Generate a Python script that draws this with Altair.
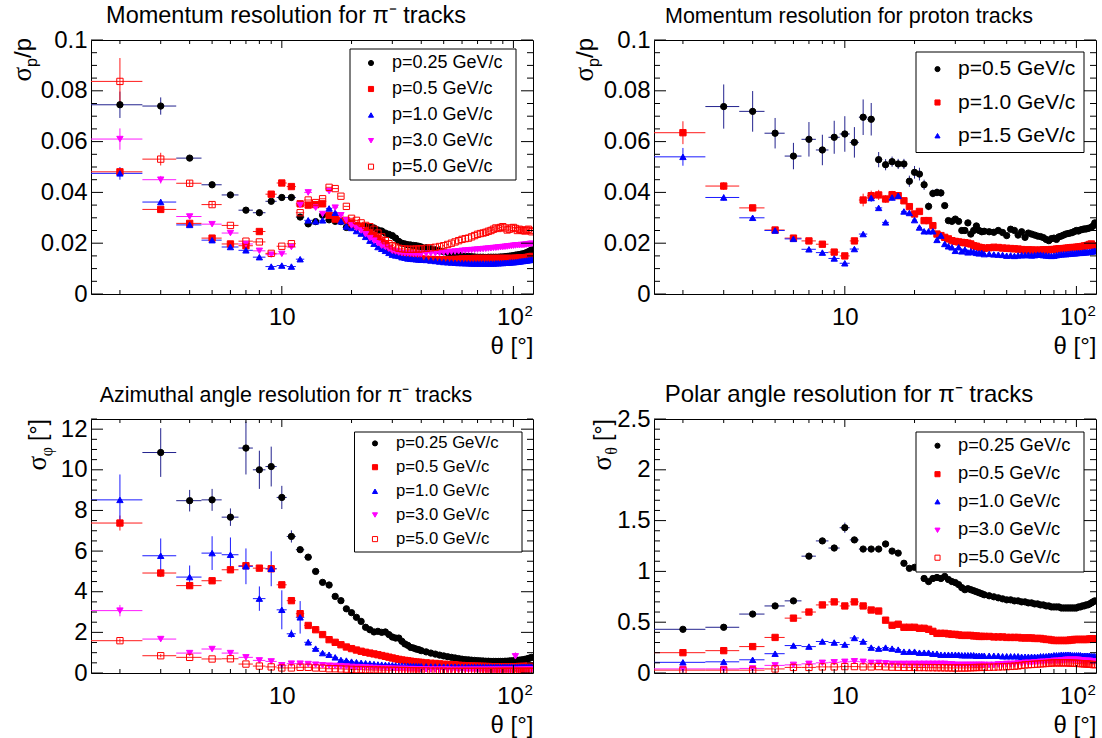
import altair as alt
import pandas as pd

# ---------------- data (theta bins in degrees) ----------------
T = list(range(2, 41)) + list(range(42, 121, 2))

LAB_PI = ["p=0.25 GeV/c", "p=0.5 GeV/c", "p=1.0 GeV/c", "p=3.0 GeV/c", "p=5.0 GeV/c"]
LAB_PR = ["p=0.5 GeV/c", "p=1.0 GeV/c", "p=1.5 GeV/c"]

# Top-left: momentum resolution, pi-
TL_K = [.0745,.074,.0535,.043,.039,.033,.032,.0365,.038,.038,
        .0303,.0276,.0285,.031,.0292,.0286,.0285,.0262,.0265,
        .0268,.0265,.0266,.0265,.026,.0252,.0248,.024,.0235,.023,
        .022,.0207,.02,.0197,.0194,.0193,.0191,.019,.0188,.0185,
        .0182,.0178,.0174,.017,.0166,.0163,.016,.0157,.0153,.015,
        .0149,.0148,.0147,.0146,.0145,.0145,.0145,.0144,.0145,.0145,
        .0145,.0145,.0145,.0146,.0146,.0147,.0148,.0149,.015,.0151,
        .0153,.0154,.0155,.0157,.0158,.016,.0163,.0166,.017,.0174]
TL_R = [.0481,.0333,.0278,.022,.0197,.019,.0246,.0393,.0437,.0423,
        .0355,.035,.0352,.0355,.031,.0295,.029,.029,.028,
        .027,.0265,.025,.024,.023,.022,.0205,.0195,.018,.017,
        .0165,.016,.0155,.015,.0147,.0145,.0143,.014,.014,.0138,
        .0137,.0136,.0135,.0135,.0135,.0135,.0136,.0136,.0137,.0138,
        .0138,.0139,.0139,.014,.014,.014,.014,.014,.014,.014,
        .014,.014,.014,.014,.014,.014,.014,.014,.014,.014,
        .0141,.0141,.0142,.0142,.0142,.0143,.0144,.0145,.0147,.0148]
TL_B = [.0475,.0362,.0272,.0212,.0185,.0172,.0145,.0108,.0112,.0108,
        .0137,.029,.0286,.029,.0337,.032,.0286,.0266,.026,
        .0248,.0238,.0225,.021,.0198,.0185,.0178,.017,.0162,.0155,
        .0152,.015,.0145,.0143,.014,.0139,.0138,.0137,.0136,.0135,
        .0134,.0132,.013,.0128,.0126,.0125,.0124,.0123,.0122,.0122,
        .0121,.0121,.012,.012,.012,.012,.012,.012,.012,.012,
        .012,.0121,.0121,.0122,.0122,.0123,.0123,.0124,.0125,.0125,
        .0126,.0127,.0128,.0129,.013,.0131,.0132,.0133,.0134,.0136]
TL_M = [.061,.045,.0305,.0275,.024,.0197,.017,.0155,.0158,.0185,
        .035,.040,.034,.0315,.0405,.034,.031,.029,.027,
        .026,.025,.0235,.022,.021,.02,.019,.0185,.0178,.017,
        .0167,.0163,.0161,.016,.016,.0159,.0158,.0158,.0158,.0158,
        .0159,.016,.016,.0161,.0163,.0164,.0166,.0167,.0168,.017,
        .0171,.0172,.0173,.0174,.0175,.0176,.0177,.0178,.0179,.018,
        .0181,.0182,.0183,.0184,.0185,.0186,.0187,.0188,.0189,.019,
        .0191,.0192,.0192,.0193,.0193,.0194,.0195,.0196,.0197,.0198]
TL_O = [.0837,.0531,.0436,.0352,.027,.0208,.0205,.016,.0188,.0198,
        .032,.037,.036,.0375,.042,.0415,.0385,.0345,.0298,
        .029,.028,.027,.0265,.0255,.024,.0225,.021,.0198,.019,
        .0185,.018,.0178,.0177,.0176,.0176,.0176,.0177,.0177,.0178,
        .018,.0182,.0184,.0187,.019,.0195,.02,.0205,.021,.0215,
        .0218,.022,.0225,.023,.0235,.0238,.024,.0243,.0247,.025,
        .0255,.026,.0258,.0262,.0265,.026,.0252,.0255,.026,.0262,
        .0258,.025,.0255,.0252,.025,.0248,.0252,.0255,.025,.0245]
TL_ERR = [
    {2:.0052,3:.0034,4:.001,5:.0008,6:.0008,7:.0008,8:.0008,9:.0009,10:.0009,11:.0009},
    {2:.0015,3:.001,4:.0008,8:.0008,9:.001,10:.001,11:.001},
    {2:.0025,3:.0012,4:.0008},
    {2:.0042,3:.0015,4:.001,12:.001,13:.0012},
    {2:.0092,3:.0025,4:.0012,5:.001},
]

# Top-right: momentum resolution, protons
TR_K = [None,.0738,.0719,.0633,.0543,.0609,.0567,.0617,.063,.0597,
        .0696,.0688,.0529,.0509,.0521,.0512,.0512,.0444,.0479,
        .0472,.043,.0345,.0396,.040,.0398,.0348,.0289,.0286,.0295,
        .0286,.025,.025,.028,.0236,.025,.0268,.025,.0245,.0247,
        .0245,.0243,.025,.0242,.023,.0255,.025,.0232,.0245,.0223,
        .024,.0236,.0232,.0228,.0226,.0222,.0215,.021,.0218,.022,
        .0215,.0225,.0228,.0232,.0236,.0238,.024,.0242,.0246,.025,
        .0248,.0252,.0254,.0256,.0256,.0258,.026,.0262,.0268,.028]
TR_R = [.0635,.0425,.0339,.0252,.022,.0209,.0196,.0165,.015,.0209,
        .037,.0387,.039,.0374,.0391,.0387,.0367,.0344,.0315,
        .0325,.0289,.0289,.0269,.0236,.023,.0223,.0217,.021,.0207,
        .0205,.0203,.0202,.02,.0197,.019,.0188,.0184,.0182,.018,
        .0182,.0184,.0183,.0181,.018,.0179,.0178,.0177,.0175,.0173,
        .0174,.0173,.0173,.0172,.0173,.0174,.0173,.0174,.0175,.0175,
        .0177,.0178,.0178,.0179,.018,.0181,.0182,.0183,.0183,.0184,
        .0185,.0186,.0187,.0189,.019,.0192,.0195,.0197,.019,.0184]
TR_B = [.054,.038,.030,.025,.0217,.0176,.0163,.014,.0121,.0177,
        .0236,.0378,.0339,.0282,.038,.0387,.0325,.0319,.0291,
        .0262,.0247,.0247,.0247,.0213,.023,.0197,.0188,.0184,.017,
        .0184,.0168,.0175,.0164,.0168,.0165,.0162,.016,.0162,.0157,
        .0158,.0156,.0155,.0154,.0151,.0152,.015,.0152,.0153,.0153,
        .0154,.0152,.0153,.0155,.0155,.0153,.0152,.0151,.015,.0151,
        .0153,.0155,.0156,.0157,.0157,.0158,.0159,.016,.016,.0161,
        .0162,.0162,.0163,.0164,.0164,.0165,.0166,.0167,.0168,.017]
TR_ERR = [
    {3:.0087,4:.008,5:.006,6:.0052,7:.0068,8:.006,9:.0065,10:.007,11:.006,12:.007,
     13:.0064,14:.003,15:.0022,16:.002,17:.002,18:.002,19:.0022,20:.0025,21:.0025,
     22:.002,23:.0015,24:.0015,25:.0015,26:.0015},
    {2:.0045,3:.0015,4:.001,12:.0025,13:.002,14:.002,15:.0015,16:.0015,17:.0012},
    {2:.0035,3:.0012,13:.0015,16:.0012,17:.0012},
]

# Bottom-left: azimuthal angle resolution, pi-
BL_K = [None,10.85,8.48,8.52,7.67,11.07,10.0,10.16,8.64,6.72,
        6.07,5.7,5.0,4.46,4.33,3.77,3.56,3.16,2.97,
        2.74,2.54,2.25,2.13,2.02,2.05,2.0,2.02,1.89,1.77,
        1.72,1.72,1.56,1.43,1.36,1.26,1.23,1.18,1.15,1.1,
        1.04,0.98,0.93,0.88,0.84,0.8,0.77,0.74,0.71,0.68,
        0.66,0.65,0.63,0.62,0.61,0.6,0.59,0.58,0.58,0.57,
        0.57,0.57,0.57,0.57,0.57,0.58,0.58,0.59,0.6,0.6,
        0.61,0.62,0.63,0.64,0.65,0.67,0.69,0.71,0.74,0.77]
BL_R = [7.38,4.92,4.3,4.54,5.08,5.28,5.16,5.13,4.34,3.56,
        2.92,2.34,2.13,1.89,1.64,1.51,1.39,1.28,1.2,
        1.13,1.07,1.02,0.98,0.94,0.9,0.86,0.82,0.78,0.74,
        0.7,0.67,0.64,0.62,0.6,0.58,0.56,0.54,0.53,0.52,
        0.5,0.48,0.47,0.45,0.43,0.42,0.41,0.4,0.38,0.37,
        0.36,0.36,0.35,0.34,0.34,0.33,0.33,0.32,0.32,0.31,
        0.31,0.31,0.31,0.31,0.3,0.3,0.3,0.3,0.31,0.31,
        0.31,0.31,0.32,0.32,0.32,0.32,0.33,0.33,0.33,0.34]
BL_B = [8.52,5.77,4.72,5.9,5.82,5.25,3.66,5.13,3.11,1.93,
        2.74,1.51,1.2,0.98,0.9,0.77,0.64,0.61,0.56,
        0.53,0.5,0.48,0.46,0.44,0.42,0.41,0.4,0.39,0.38,
        0.37,0.36,0.36,0.35,0.35,0.34,0.34,0.34,0.33,0.33,
        0.33,0.32,0.32,0.32,0.31,0.31,0.31,0.31,0.3,0.3,
        0.3,0.3,0.3,0.3,0.3,0.3,0.3,0.3,0.3,0.3,
        0.3,0.3,0.3,0.3,0.3,0.3,0.3,0.3,0.3,0.3,
        0.3,0.3,0.3,0.3,0.3,0.3,0.3,0.3,0.3,0.3]
BL_M = [3.07,1.67,0.98,1.18,0.98,0.77,0.62,0.57,0.38,0.46,
        0.46,0.44,0.41,0.38,0.36,0.35,0.33,0.32,0.3,
        0.29,0.28,0.27,0.26,0.25,0.24,0.23,0.23,0.22,0.21,
        0.21,0.2,0.2,0.2,0.19,0.19,0.19,0.18,0.18,0.18,
        0.18,0.17,0.17,0.17,0.17,0.17,0.16,0.16,0.16,0.16,
        0.16,0.16,0.16,0.16,0.16,0.16,0.16,0.16,0.16,0.16,
        0.16,0.16,0.16,0.16,0.16,0.16,0.16,0.16,0.16,0.16,
        0.82,0.16,0.16,0.16,0.16,0.16,0.17,0.17,0.17,0.17]
BL_O = [1.59,0.85,0.77,0.69,0.7,0.44,0.34,0.3,0.25,0.25,
        0.28,0.28,0.25,0.24,0.21,0.21,0.2,0.19,0.18,
        0.17,0.17,0.16,0.16,0.15,0.15,0.14,0.14,0.13,0.13,
        0.13,0.12,0.12,0.12,0.11,0.11,0.11,0.1,0.1,0.1,
        0.1,0.09,0.09,0.09,0.09,0.08,0.08,0.08,0.08,0.08,
        0.08,0.08,0.08,0.08,0.08,0.08,0.08,0.08,0.08,0.08,
        0.08,0.08,0.08,0.08,0.08,0.08,0.08,0.08,0.08,0.08,
        0.08,0.08,0.08,0.08,0.08,0.08,0.08,0.08,0.08,0.08]
BL_ERR = [
    {3:1.2,4:.53,5:.54,6:.43,7:1.3,8:.94,9:.98,10:.57,11:.3,12:.15},
    {2:.37,3:.2,4:.15,5:.12,6:.15,7:.15,8:.12,9:.12},
    {2:1.25,3:.85,4:.57,5:.83,6:.85,7:.88,8:.6,9:.86,10:.96,11:.2,12:.8,13:.15},
    {2:.28,3:.12,4:.1,5:.1,6:.1,102:.2},
    {2:.1,3:.08},
]

# Bottom-right: polar angle resolution, pi-
BR_K = [0.43,0.45,0.58,0.66,0.71,1.15,1.3,1.23,1.43,1.31,
        1.22,1.22,1.22,1.27,1.2,1.18,1.08,1.03,1.04,
        1.04,0.93,0.9,0.93,0.94,0.93,0.95,0.92,0.9,0.89,
        0.87,0.84,0.82,0.83,0.82,0.81,0.8,0.79,0.78,0.77,
        0.76,0.75,0.74,0.73,0.72,0.72,0.71,0.71,0.7,0.7,
        0.69,0.69,0.68,0.68,0.67,0.67,0.66,0.66,0.65,0.65,
        0.65,0.65,0.64,0.64,0.64,0.64,0.64,0.64,0.64,0.64,
        0.65,0.65,0.66,0.66,0.67,0.67,0.68,0.69,0.7,0.71]
BR_R = [0.2,0.22,0.26,0.35,0.54,0.6,0.67,0.7,0.66,0.7,
        0.66,0.62,0.61,0.52,0.47,0.48,0.45,0.45,0.45,
        0.44,0.44,0.43,0.41,0.39,0.39,0.39,0.385,0.38,0.38,
        0.375,0.37,0.37,0.37,0.37,0.365,0.365,0.36,0.36,0.36,
        0.36,0.355,0.355,0.355,0.35,0.35,0.35,0.35,0.345,0.345,
        0.345,0.345,0.34,0.34,0.34,0.335,0.33,0.33,0.325,0.32,
        0.32,0.32,0.32,0.32,0.32,0.32,0.325,0.325,0.33,0.33,
        0.33,0.33,0.33,0.33,0.33,0.33,0.335,0.335,0.335,0.335]
BR_B = [0.105,0.11,0.13,0.19,0.27,0.26,0.31,0.3,0.28,0.345,
        0.31,0.25,0.24,0.25,0.24,0.23,0.21,0.21,0.21,
        0.2,0.2,0.2,0.19,0.19,0.18,0.18,0.18,0.18,0.18,
        0.18,0.175,0.175,0.175,0.175,0.175,0.17,0.17,0.17,0.17,
        0.17,0.17,0.17,0.165,0.165,0.165,0.165,0.165,0.16,0.16,
        0.16,0.16,0.16,0.16,0.165,0.165,0.165,0.17,0.17,0.175,
        0.175,0.175,0.18,0.18,0.18,0.18,0.18,0.175,0.175,0.175,
        0.175,0.175,0.17,0.17,0.17,0.17,0.17,0.165,0.165,0.165]
BR_M = [0.04,0.04,0.045,0.075,0.08,0.09,0.1,0.105,0.11,0.115,
        0.11,0.1,0.1,0.095,0.09,0.09,0.09,0.09,0.09,
        0.09,0.09,0.09,0.09,0.09,0.09,0.09,0.085,0.085,0.08,
        0.08,0.08,0.08,0.08,0.08,0.08,0.08,0.08,0.08,0.08,
        0.08,0.08,0.085,0.085,0.09,0.09,0.09,0.095,0.095,0.1,
        0.1,0.1,0.105,0.105,0.11,0.11,0.11,0.115,0.115,0.12,
        0.12,0.12,0.125,0.125,0.13,0.13,0.13,0.13,0.13,0.13,
        0.13,0.125,0.125,0.12,0.12,0.12,0.12,0.115,0.115,0.115]
BR_O = [0.028,0.028,0.028,0.04,0.055,0.055,0.06,0.06,0.063,0.063,
        0.06,0.06,0.063,0.06,0.058,0.057,0.055,0.055,0.055,
        0.054,0.054,0.053,0.053,0.052,0.052,0.051,0.051,0.05,0.05,
        0.05,0.05,0.05,0.051,0.052,0.053,0.054,0.055,0.055,0.056,
        0.057,0.058,0.06,0.061,0.063,0.065,0.067,0.07,0.075,0.08,
        0.082,0.084,0.086,0.088,0.09,0.092,0.094,0.096,0.098,0.1,
        0.1,0.1,0.1,0.1,0.1,0.1,0.098,0.097,0.096,0.095,
        0.094,0.093,0.092,0.09,0.09,0.088,0.086,0.085,0.083,0.082]
BR_ERR = [{7:.02,8:.03,9:.02,10:.05,11:.03}, {}, {}, {}, {}]

# ---------------- styling ----------------
FONT = "Liberation Sans"
SERIF = "Liberation Serif"
W, H = 442, 254
FILLS = ["black", "red", "blue", "magenta", "transparent"]
STROKES = ["black", "red", "blue", "magenta", "red"]
SHAPES = ["circle", "square", "triangle-up", "triangle-down", "square"]
ERRCOL = ["#23238e", "#ff1a1a", "#1a1aff", "#ff1aff", "#ff1a1a"]
XMAJOR = [10, 100]
XMINOR = [2, 3, 4, 5, 6, 7, 8, 9, 20, 30, 40, 50, 60, 70, 80, 90]


def make_df(labels, series, errs):
    rows = []
    for si, (lab, vals, err) in enumerate(zip(labels, series, errs)):
        for t, v in zip(T, vals):
            if v is None:
                continue
            e = err.get(t, 0.0)
            rows.append(dict(theta=t, val=v, series=lab, idx=si,
                             xlo=t - 0.5, xhi=t + 0.5, ylo=v - e, yhi=v + e,
                             err=e, ecol=ERRCOL[si]))
    return pd.DataFrame(rows)


def one(text):
    return pd.DataFrame({"t": [text]})


def panel(labels, series, errs, ydom, ymajor, ystep, title, tsize, ytitle, leg, box,
          anchor=False):
    df = make_df(labels, series, errs)
    n = len(labels)
    xs = alt.Scale(type="log", domain=[1.5, 121.5], nice=False)
    ys = alt.Scale(domain=ydom, nice=False, zero=False)
    xax = alt.Axis(values=XMAJOR, labelExpr="datum.value >= 100 ? '' : '10'",
                   labelFont=FONT, labelFontSize=24, labelColor="black",
                   labelPadding=30.5, labelBaseline="alphabetic",
                   ticks=False, tickSize=0, domain=False, grid=False,
                   title="θ [°]", titleFont=FONT, titleFontSize=24,
                   titleFontWeight="normal", titleColor="black",
                   titleAnchor="end", titleAlign="right", titleBaseline="alphabetic",
                   titleX=W, titleY=59)
    yax = alt.Axis(values=ymajor, format="~g", labelFont=FONT, labelFontSize=24,
                   labelColor="black", labelPadding=4, ticks=False, tickSize=0,
                   domain=False, grid=False, title=None)

    def X(f):
        return alt.X(f"{f}:Q", scale=xs, axis=xax)

    def Y(f):
        return alt.Y(f"{f}:Q", scale=ys, axis=yax)

    layers = []
    layers.append(alt.Chart(df).mark_rule(strokeWidth=1, clip=True).encode(
        x=X("xlo"), x2="xhi", y=Y("val"), color=alt.Color("ecol:N", scale=None)))
    layers.append(alt.Chart(df[df.err > 0]).mark_rule(strokeWidth=1, clip=True).encode(
        x=X("theta"), y=Y("ylo"), y2="yhi", color=alt.Color("ecol:N", scale=None)))

    layers.append(alt.Chart(df).mark_point(size=40, strokeWidth=1, opacity=1, clip=True).encode(
        x=X("theta"), y=Y("val"),
        fill=alt.Fill("series:N", scale=alt.Scale(domain=labels, range=FILLS[:n]), legend=None),
        stroke=alt.Stroke("series:N", scale=alt.Scale(domain=labels, range=STROKES[:n]), legend=None),
        shape=alt.Shape("series:N", scale=alt.Scale(domain=labels, range=SHAPES[:n]), legend=None),
        order=alt.Order("idx:Q"),
    ))

    # inward ticks on all four sides
    for vals, L in [(XMAJOR, 8), (XMINOR, 4)]:
        d = pd.DataFrame({"theta": vals})
        layers.append(alt.Chart(d).mark_rule(color="black", strokeWidth=1).encode(
            x=X("theta"), y=alt.value(H), y2=alt.value(H - L)))
        layers.append(alt.Chart(d).mark_rule(color="black", strokeWidth=1).encode(
            x=X("theta"), y=alt.value(0), y2=alt.value(L)))
    nmin = int(round((ydom[1] - ydom[0]) / ystep))
    yminor = [round(ydom[0] + i * ystep, 6) for i in range(nmin + 1)]
    yminor = [v for v in yminor if all(abs(v - m) > 1e-9 for m in ymajor)]
    for vals, L in [(ymajor, 12), (yminor, 6)]:
        d = pd.DataFrame({"val": vals})
        layers.append(alt.Chart(d).mark_rule(color="black", strokeWidth=1).encode(
            y=Y("val"), x=alt.value(0), x2=alt.value(L)))
        layers.append(alt.Chart(d).mark_rule(color="black", strokeWidth=1).encode(
            y=Y("val"), x=alt.value(W), x2=alt.value(W - L)))

    # "10^2" label at the 100 tick
    d100 = pd.DataFrame({"theta": [100], "t": ["10"], "s": ["2"]})
    layers.append(alt.Chart(d100).mark_text(
        font=FONT, fontSize=24, align="center", baseline="alphabetic", dx=-3,
        color="black").encode(x=X("theta"), y=alt.value(H + 30.5), text="t:N"))
    layers.append(alt.Chart(d100).mark_text(
        font=FONT, fontSize=15, align="left", baseline="alphabetic", dx=11,
        color="black").encode(x=X("theta"), y=alt.value(H + 22), text="s:N"))

    # legend frame and entries
    layers.append(alt.Chart(one("")).mark_rect(fill="white", stroke="black", strokeWidth=1).encode(
        x=alt.value(box[0]), x2=alt.value(box[2]), y=alt.value(box[1]), y2=alt.value(box[3])))
    for i, lab in enumerate(labels):
        ry = leg["rows"][i]
        layers.append(alt.Chart(one(lab)).mark_point(
            shape=SHAPES[i], fill=FILLS[i], stroke=STROKES[i], size=26, strokeWidth=1,
            opacity=1).encode(x=alt.value(leg["sx"]), y=alt.value(ry)))
        layers.append(alt.Chart(one(lab)).mark_text(
            font=FONT, fontSize=leg["fs"], align="left", baseline="middle",
            color="black").encode(text="t:N", x=alt.value(leg["tx"]), y=alt.value(ry)))

    # title
    layers.append(alt.Chart(one(title)).mark_text(
        font=FONT, fontSize=tsize, align="center", baseline="alphabetic", color="black").encode(
        text="t:N", x=alt.value(195), y=alt.value(-17)))

    # rotated y title, composed of pieces (text, font, size, dx, y_end)
    bx = ytitle["bx"]
    for txt, fnt, fs, dx, ye in ytitle["pieces"]:
        layers.append(alt.Chart(one(txt)).mark_text(
            font=fnt, fontSize=fs, angle=270, align="right", baseline="alphabetic",
            color="black").encode(text="t:N", x=alt.value(bx + dx), y=alt.value(ye)))

    if anchor:
        layers.append(alt.Chart(one("")).mark_rect(fill="white", strokeWidth=0).encode(
            x=alt.value(-90), x2=alt.value(-89), y=alt.value(-39), y2=alt.value(-38)))

    return alt.layer(*layers).properties(width=W, height=H)


YT_P = [("/p", FONT, 24, 0, -2), ("p", FONT, 16, 6, 18), ("σ", SERIF, 27, 0, 27)]
YT_PHI = [(" [°]", FONT, 23, 0, 0), ("φ", SERIF, 16, 6, 28), ("σ", SERIF, 27, 0, 37)]
YT_TH = [(" [°]", FONT, 23, 0, 0), ("θ", SERIF, 16, 6, 28), ("σ", SERIF, 27, 0, 37)]

tl = panel(LAB_PI, [TL_K, TL_R, TL_B, TL_M, TL_O], TL_ERR, [0, 0.1],
           [0, 0.02, 0.04, 0.06, 0.08, 0.1], 0.005,
           "Momentum resolution for π⁻ tracks", 23.5,
           {"bx": -60, "pieces": YT_P},
           {"sx": 280, "tx": 301, "fs": 18, "rows": [23, 49, 75, 100.7, 126.7]},
           (259, 9, 425, 140), anchor=True)
tr = panel(LAB_PR, [TR_K, TR_R, TR_B], TR_ERR, [0, 0.1],
           [0, 0.02, 0.04, 0.06, 0.08, 0.1], 0.005,
           "Momentum resolution for proton tracks", 21.5,
           {"bx": -61, "pieces": YT_P},
           {"sx": 283.5, "tx": 304, "fs": 21, "rows": [29.1, 62.5, 95.7]},
           (262, 12, 430, 112.5))
bl = panel(LAB_PI, [BL_K, BL_R, BL_B, BL_M, BL_O], BL_ERR, [0, 12.5],
           [0, 2, 4, 6, 8, 10, 12], 0.5,
           "Azimuthal angle resolution for π⁻ tracks", 21.4,
           {"bx": -45, "pieces": YT_PHI},
           {"sx": 284, "tx": 305, "fs": 16.7, "rows": [24.4, 48.2, 72.3, 96, 120.1]},
           (263.5, 13, 431, 133))
br = panel(LAB_PI, [BR_K, BR_R, BR_B, BR_M, BR_O], BR_ERR, [0, 2.5],
           [0, 0.5, 1, 1.5, 2, 2.5], 0.1,
           "Polar angle resolution for π⁻ tracks", 24,
           {"bx": -43, "pieces": YT_TH},
           {"sx": 283.5, "tx": 304, "fs": 18.3, "rows": [26.7, 55.2, 82.7, 111.3, 138.7]},
           (262, 13, 430, 153))

chart = alt.concat(tl, tr, bl, br, columns=2, spacing={"row": 125, "column": 121},
                   bounds="flush", padding=0).resolve_scale(
    x="independent", y="independent", fill="independent", stroke="independent",
    shape="independent", color="independent").configure_view(
    stroke="black", strokeWidth=1)

chart.save("out.html", embed_options={"renderer": "svg", "actions": False})
